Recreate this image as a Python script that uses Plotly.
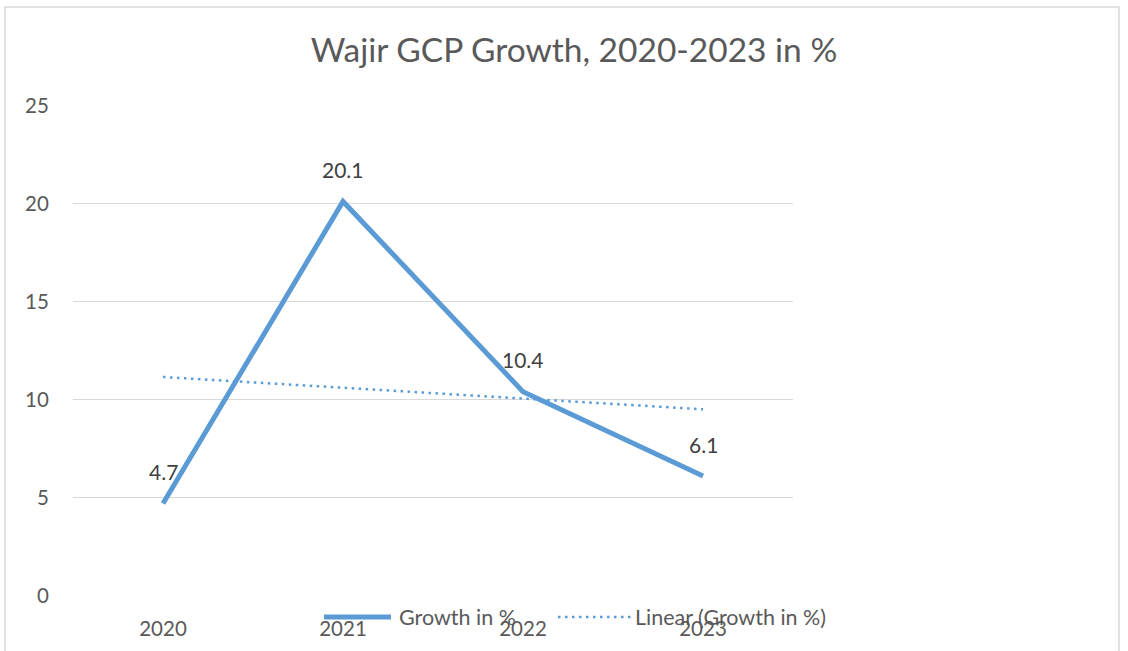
import plotly.graph_objects as go
import numpy as np

years = ["2020", "2021", "2022", "2023"]
growth = [4.7, 20.1, 10.4, 6.1]
labels = ["4.7", "20.1", "10.4", "6.1"]
y_ticks = [0, 5, 10, 15, 20, 25]

# Linear trendline (least squares, as in Excel's "Linear" trendline)
xi = np.arange(1, len(growth) + 1)
slope, intercept = np.polyfit(xi, growth, 1)
trend = list(slope * xi + intercept)

FONT = "Lato"
BLUE = "#5B9BD5"

fig = go.Figure()
fig.add_trace(go.Scatter(x=years, y=growth, mode="lines", name="Growth in %",
                         line=dict(color=BLUE, width=5), showlegend=False))
fig.add_trace(go.Scatter(x=years, y=trend, mode="lines", name="Linear (Growth in %)",
                         line=dict(color=BLUE, width=2.5, dash="2.5px,4.5px"), showlegend=False))

for i, (y, t) in enumerate(zip(growth, labels)):
    fig.add_annotation(x=i, y=y, text=t, showarrow=False, yshift=32,
                       font=dict(family=FONT, size=21, color="#404040"))

L, R, T, B = 73, 335, 105, 55
W, H = 1128, 651
pw, ph = W - L - R, H - T - B

def px(x):
    return (x - L) / pw

def py(y):
    return (H - B - y) / ph

# outer chart border
fig.add_shape(type="rect", xref="paper", yref="paper",
              x0=px(5), x1=px(1119), y0=py(668), y1=py(7),
              line=dict(color="#D9D9D9", width=1.5), layer="below")

# manual legend
ly = py(617)
fig.add_shape(type="line", xref="paper", yref="paper", x0=px(324), x1=px(391), y0=ly, y1=ly,
              line=dict(color=BLUE, width=5))
fig.add_annotation(xref="paper", yref="paper", x=px(397), y=ly, text="Growth in %",
                   xanchor="left", yanchor="middle", showarrow=False,
                   font=dict(family=FONT, size=21.5, color="#595959"))
fig.add_shape(type="line", xref="paper", yref="paper", x0=px(558), x1=px(631), y0=ly, y1=ly,
              line=dict(color=BLUE, width=2.5, dash="2.5px,4.5px"))
fig.add_annotation(xref="paper", yref="paper", x=px(633), y=ly, text="Linear (Growth in %)",
                   xanchor="left", yanchor="middle", showarrow=False,
                   font=dict(family=FONT, size=21.5, color="#595959"))

fig.update_layout(
    width=W, height=H,
    margin=dict(l=L, r=R, t=T, b=B, autoexpand=False),
    paper_bgcolor="white", plot_bgcolor="white",
    title=dict(text="Wajir GCP Growth, 2020-2023 in %", x=(312 + 836) / 2 / W, xanchor="center",
               y=1 - 50 / H, yanchor="middle",
               font=dict(family=FONT, size=33.5, color="#595959")),
    font=dict(family=FONT, color="#595959"),
    hovermode="closest",
)
fig.update_xaxes(type="category", range=[-0.5, 3.5], showgrid=False, zeroline=False,
                 showline=False, ticks="outside", ticklen=14, tickcolor="rgba(0,0,0,0)",
                 tickfont=dict(family=FONT, size=20.5, color="#595959"))
fig.update_yaxes(range=[-0.02, 25.02], tickvals=y_ticks, showgrid=True, gridcolor="#D9D9D9",
                 gridwidth=1.3, zeroline=False, showline=False, ticks="outside", ticklen=19,
                 tickcolor="rgba(0,0,0,0)",
                 tickfont=dict(family=FONT, size=20.5, color="#595959"))

fig.write_html("out.html", config={"displayModeBar": False},
               post_script="document.body.style.margin='0px';")
